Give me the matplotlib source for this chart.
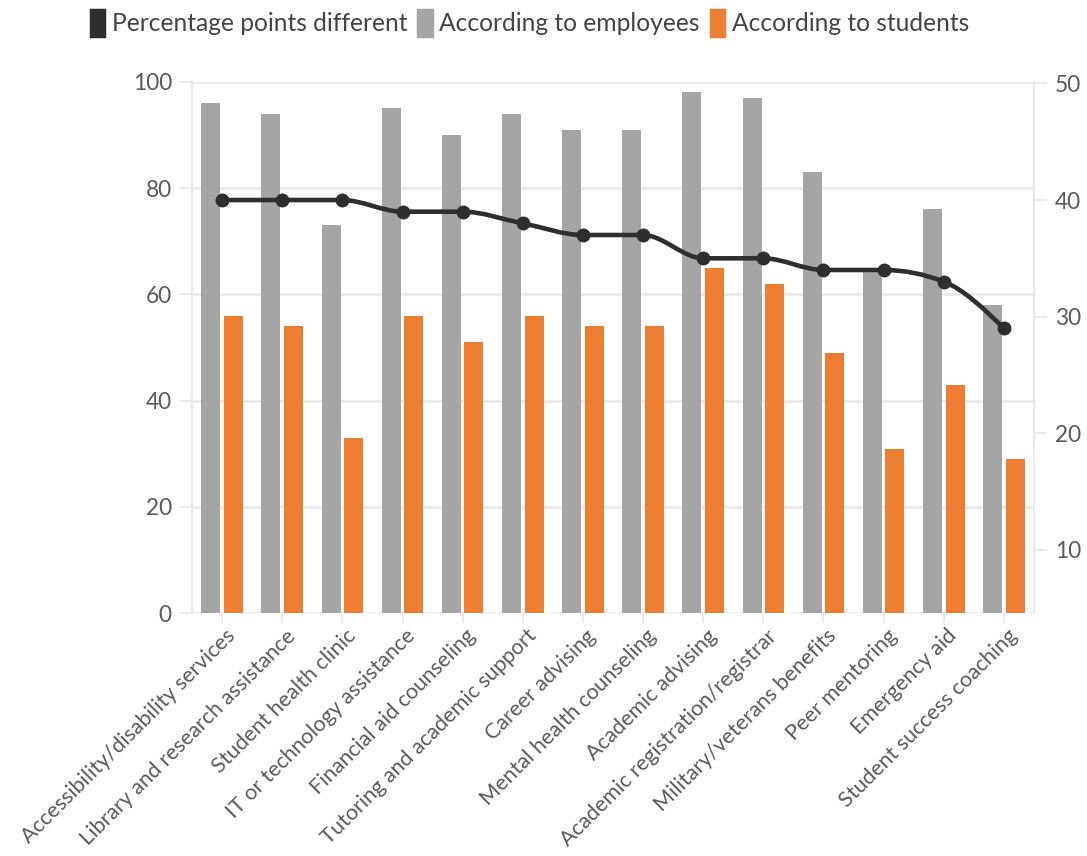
import matplotlib.pyplot as plt
import numpy as np
from matplotlib.patches import Patch, PathPatch
from matplotlib.path import Path
from matplotlib.transforms import ScaledTranslation

plt.rcParams["font.family"] = ["Lato", "DejaVu Sans"]

CATEGORIES = [
    "Accessibility/disability services",
    "Library and research assistance",
    "Student health clinic",
    "IT or technology assistance",
    "Financial aid counseling",
    "Tutoring and academic support",
    "Career advising",
    "Mental health counseling",
    "Academic advising",
    "Academic registration/registrar",
    "Military/veterans benefits",
    "Peer mentoring",
    "Emergency aid",
    "Student success coaching",
]
EMPLOYEES = [96, 94, 73, 95, 90, 94, 91, 91, 98, 97, 83, 65, 76, 58]
STUDENTS = [56, 54, 33, 56, 51, 56, 54, 54, 65, 62, 49, 31, 43, 29]
PP_DIFFERENT = [40, 40, 40, 39, 39, 38, 37, 37, 35, 35, 34, 34, 33, 29]

GREY = "#a5a5a5"
ORANGE = "#ed7d31"
DARK = "#2e2e2e"
GRID = "#e9e9e9"
TEXT = "#5a5a5a"


def monotone_path(x, y):
    """Cubic bezier path through the points with monotone (d3-style) tangents."""
    x = np.asarray(x, float)
    y = np.asarray(y, float)
    n = len(x)
    h = np.diff(x)
    s = np.diff(y) / h
    t = np.zeros(n)
    for i in range(1, n - 1):
        s0, s1 = s[i - 1], s[i]
        p = (s0 * h[i] + s1 * h[i - 1]) / (h[i - 1] + h[i])
        t[i] = (np.sign(s0) + np.sign(s1)) * min(abs(s0), abs(s1), 0.5 * abs(p))
    t[0] = (3 * s[0] - t[1]) / 2
    t[-1] = (3 * s[-1] - t[-2]) / 2
    verts = [(x[0], y[0])]
    codes = [Path.MOVETO]
    for i in range(n - 1):
        dx = h[i] / 3
        verts += [(x[i] + dx, y[i] + dx * t[i]),
                  (x[i + 1] - dx, y[i + 1] - dx * t[i + 1]),
                  (x[i + 1], y[i + 1])]
        codes += [Path.CURVE4] * 3
    return Path(verts, codes)


fig = plt.figure(figsize=(10.87, 8.56), dpi=100)
W, H = 1087, 856
ax = fig.add_axes([192 / W, 1 - 613.3 / H, (1034 - 192) / W, (613.3 - 81.7) / H])

x = np.arange(len(CATEGORIES))
bw = 0.317
off = 0.188
ax.bar(x - off, EMPLOYEES, width=bw, color=GREY, zorder=2)
ax.bar(x + off, STUDENTS, width=bw, color=ORANGE, zorder=2)

ax.set_xlim(-0.5, len(CATEGORIES) - 0.5)
ax.set_ylim(0, 100)
ax.set_yticks([0, 20, 40, 60, 80, 100])
ax.grid(axis="y", color=GRID, linewidth=2, zorder=0)
ax.set_axisbelow(True)
for side in ["top", "bottom"]:
    ax.spines[side].set_visible(False)
for side in ["left", "right"]:
    ax.spines[side].set_color(GRID)
    ax.spines[side].set_linewidth(1.5)
ax.tick_params(axis="y", length=8.5, width=1.5, color=GRID, pad=6,
               labelsize=16.3, labelcolor=TEXT)
ax.tick_params(axis="x", length=7, width=1.2, color="#e3e8ee", pad=2,
               labelsize=15.6, labelcolor=TEXT)
ax.set_xticks(x)
ax.set_xticklabels(CATEGORIES, rotation=45, ha="right", va="top",
                   rotation_mode="anchor")
shift = ScaledTranslation(3 / 100, 0, fig.dpi_scale_trans)
for lbl in ax.get_xticklabels():
    lbl.set_transform(lbl.get_transform() + shift)

ax2 = ax.twinx()
ax2.set_ylim(4.55, 50.15)
ax2.set_yticks([10, 20, 30, 40, 50])
for side in ["top", "bottom", "left"]:
    ax2.spines[side].set_visible(False)
ax2.spines["right"].set_color(GRID)
ax2.spines["right"].set_linewidth(1.5)
ax2.tick_params(axis="y", length=9, width=1.5, color=GRID, pad=6,
                labelsize=16.3, labelcolor=TEXT)
ax2.add_patch(PathPatch(monotone_path(x, PP_DIFFERENT), fill=False,
                        edgecolor=DARK, linewidth=3.3, zorder=3))
ax2.plot(x, PP_DIFFERENT, linestyle="none", marker="o", markersize=9,
         color=DARK, zorder=4)

handles = [
    Patch(facecolor=DARK, edgecolor=DARK, joinstyle="round", linewidth=2.5),
    Patch(facecolor=GREY, edgecolor=GREY, joinstyle="round", linewidth=2.5),
    Patch(facecolor=ORANGE, edgecolor=ORANGE, joinstyle="round", linewidth=2.5),
]
labels = ["Percentage points different", "According to employees",
          "According to students"]
leg = fig.legend(handles, labels, loc="center", bbox_to_anchor=(530 / W, 1 - 23 / H),
                 ncol=3, frameon=False, fontsize=17.7, handlelength=0.55,
                 handleheight=1.2, handletextpad=0.3, columnspacing=0.45)
for t in leg.get_texts():
    t.set_color("#444444")

fig.savefig("out.png", dpi=100)
